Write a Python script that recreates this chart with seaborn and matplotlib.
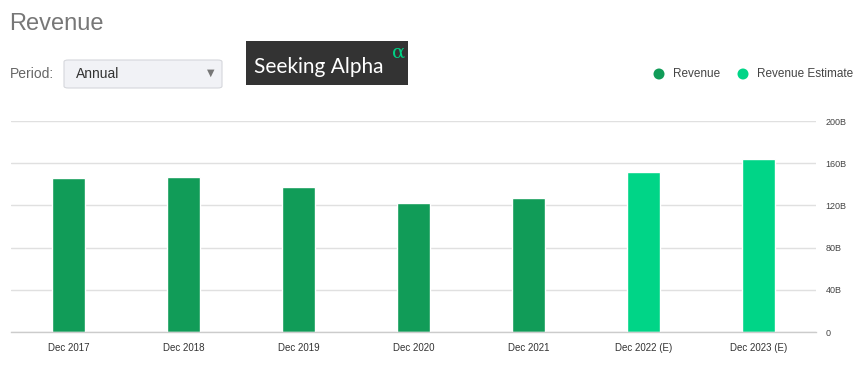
import matplotlib
matplotlib.use("Agg")
import matplotlib.pyplot as plt
import seaborn as sns
import pandas as pd
from matplotlib.patches import FancyBboxPatch, Rectangle, Ellipse

categories = ["Dec 2017", "Dec 2018", "Dec 2019", "Dec 2020", "Dec 2021", "Dec 2022 (E)", "Dec 2023 (E)"]
values = [146.0, 146.8, 137.2, 122.0, 126.8, 151.3, 164.4]
kinds = ["Revenue", "Revenue", "Revenue", "Revenue", "Revenue", "Revenue Estimate", "Revenue Estimate"]
y_ticks = [0, 40, 80, 120, 160, 200]
y_tick_labels = ["0", "40B", "80B", "120B", "160B", "200B"]
palette = {"Revenue": "#119c58", "Revenue Estimate": "#00d587"}

df = pd.DataFrame({"period": categories, "value": values, "kind": kinds})

sns.set_theme(style="white")
plt.rcParams["font.family"] = ["Liberation Sans", "DejaVu Sans"]

W, H = 866, 370
fig = plt.figure(figsize=(W / 100, H / 100), dpi=100)
ax = fig.add_axes([11 / W, 1 - 332 / H, (816 - 11) / W, (332 - 121) / H])

sns.barplot(data=df, x="period", y="value", hue="kind", palette=palette,
            dodge=False, width=0.28, ax=ax, legend=False, saturation=1)

ax.set_ylim(0, 200)
ax.set_xlim(-0.5, len(categories) - 0.5)
ax.set_yticks(y_ticks)
ax.set_yticklabels(y_tick_labels)
ax.yaxis.tick_right()
ax.tick_params(axis="y", length=0, pad=7, labelsize=6.5, labelcolor="#444444")
ax.tick_params(axis="x", length=0, pad=8, labelsize=7, labelcolor="#333333")
ax.set_xlabel("")
ax.set_ylabel("")
ax.grid(axis="y", color="#e0e0e0", linewidth=1)
ax.set_axisbelow(True)
for s in ["top", "left", "right"]:
    ax.spines[s].set_visible(False)
ax.spines["bottom"].set_color("#cccccc")
ax.spines["bottom"].set_linewidth(1)

# Title and controls
fig.text(9 / W, 1 - 24 / H, "Revenue", fontsize=17, color="#777777", va="center", ha="left")
fig.text(10 / W, 1 - 74 / H, "Period:", fontsize=10, color="#666666", va="center", ha="left")
box = FancyBboxPatch((64 / W, 1 - 88 / H), (222 - 64) / W, (88 - 60) / H,
                     boxstyle="round,pad=0,rounding_size=0.005", transform=fig.transFigure,
                     facecolor="#f1f2f6", edgecolor="#d5d7dc", linewidth=0.8)
fig.patches.append(box)
fig.text(76 / W, 1 - 74 / H, "Annual", fontsize=10, color="#333333", va="center", ha="left")
fig.text(211 / W, 1 - 73 / H, "▼", fontsize=7, color="#777777", va="center", ha="center",
         family=["DejaVu Sans"])

# Logo
logo = Rectangle((246 / W, 1 - 85 / H), (408 - 246) / W, (85 - 41) / H,
                 transform=fig.transFigure, facecolor="#333333", edgecolor="none")
fig.patches.append(logo)
fig.text(254 / W, 1 - 67 / H, "Seeking Alpha", fontsize=15, color="#ffffff", va="center", ha="left",
         family=["Lato", "DejaVu Sans"])
fig.text(392 / W, 1 - 53 / H, "α", fontsize=14, color="#00d084", va="center", ha="left",
         family=["DejaVu Serif"])

# Legend
for cx, label, col in [(659, "Revenue", palette["Revenue"]), (743, "Revenue Estimate", palette["Revenue Estimate"])]:
    fig.patches.append(Ellipse((cx / W, 1 - 74 / H), 11 / W, 11 / H, transform=fig.transFigure,
                               facecolor=col, edgecolor="none"))
    fig.text((cx + 14) / W, 1 - 74 / H, label, fontsize=8.5, color="#444444", va="center", ha="left")

fig.savefig("out.png", dpi=100)
